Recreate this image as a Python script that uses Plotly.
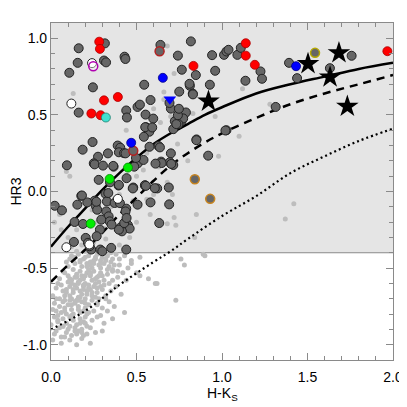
import plotly.graph_objects as go

# ---- data ----
# reddening / model curves
curve_x = [0, 0.1, 0.2, 0.3, 0.4, 0.5, 0.6, 0.7, 0.8, 0.9, 1.0, 1.2, 1.4, 1.6, 1.8, 2.0]
solid_y = [-0.36, -0.23, -0.11, 0.01, 0.12, 0.22, 0.31, 0.38, 0.44, 0.50, 0.55, 0.64, 0.70, 0.75, 0.80, 0.84]
dashed_y = [-0.59, -0.48, -0.38, -0.27, -0.15, -0.04, 0.07, 0.17, 0.25, 0.32, 0.38, 0.48, 0.57, 0.64, 0.70, 0.76]
dot_x = [0, 0.2, 0.4, 0.6, 0.7, 0.8, 1.0, 1.2, 1.4, 1.6, 1.8, 2.0]
dot_y = [-0.90, -0.78, -0.61, -0.46, -0.39, -0.31, -0.16, -0.03, 0.12, 0.23, 0.33, 0.41]

# faint background sources
faint_x = [0.12, 0.16, 0.19, 0.22, 0.25, 0.27, 0.30, 0.33, 0.35, 0.38, 0.40, 0.43, 0.47, 0.52, 0.14, 0.18, 0.21, 0.24, 0.28, 0.31, 0.34, 0.37, 0.09, 0.45, 0.26, 0.23, 0.29,
           0.07, 0.10, 0.13, 0.15, 0.17, 0.19, 0.21, 0.23, 0.25, 0.27, 0.29, 0.31, 0.33, 0.36, 0.39, 0.42, 0.12, 0.16, 0.20, 0.24, 0.28, 0.34, 0.05, 0.44, 0.52, 0.57, 0.62, 0.18, 0.22,
           0.03, 0.06, 0.09, 0.11, 0.13, 0.15, 0.17, 0.19, 0.21, 0.23, 0.25, 0.27, 0.30, 0.32, 0.35, 0.38, 0.41, 0.08, 0.12, 0.16, 0.20, 0.24, 0.28, 0.01, 0.14, 0.18, 0.22,
           0.02, 0.05, 0.07, 0.10, 0.12, 0.14, 0.16, 0.18, 0.20, 0.22, 0.25, 0.27, 0.30, 0.34, 0.37, 0.06, 0.09, 0.13, 0.17, 0.21, 0.01, 0.15, 0.11, 0.19,
           0.02, 0.04, 0.07, 0.09, 0.11, 0.13, 0.15, 0.17, 0.19, 0.21, 0.24, 0.27, 0.31, 0.05, 0.10, 0.14, 0.18, 0.23,
           0.02, 0.06, 0.09, 0.12, 0.15, 0.18, 0.21, 0.06, 0.15, 0.23, 0.01, 0.26, 0.00,
           0.43, 0.36, 0.30, 0.61, 0.73, 0.78, 0.76, 0.89, 0.90, 0.33, 0.29,
           0.13, 0.09, 0.11, 0.02, 0.05, 0.10, 0.15, 0.18, 0.20, 0.22, 0.25, 0.28, 0.30, 0.32, 0.27, 0.29, 0.31, 0.35, 0.37, 0.33, 0.38, 0.40, 0.42, 0.44, 0.46, 0.48,
           0.50, 0.52, 0.54, 0.56, 0.58, 0.60, 0.62, 0.64, 0.66, 0.68, 0.70, 0.72, 0.71, 0.73, 0.68, 0.85, 0.84, 0.98, 1.10, 0.96, 0.83, 1.12, 1.28, 0.72, 0.66, 0.68,
           0.38, 0.40, 0.46, 0.50, 0.35, 0.24, 0.17, 1.42, 1.37, 0.44, 0.48, 0.56, 0.60, 0.74, 0.80, 0.63, 0.06, 0.12, 0.45, 0.52, 0.34, 0.56,
           0.11, 0.14, 0.17, 0.20, 0.23, 0.26, 0.29, 0.32, 0.36, 0.40, 0.08, 0.11, 0.14, 0.17, 0.20, 0.23, 0.26, 0.30, 0.33, 0.04, 0.07, 0.10, 0.13, 0.16, 0.19,
           0.22, 0.26, 0.29, 0.03, 0.08, 0.11, 0.14, 0.17, 0.20, 0.24, 0.04, 0.08, 0.12, 0.16, 0.20, 0.03, 0.07, 0.11, 0.14, 0.18, 0.15, 0.20, 0.25, 0.30, 0.35,
           0.10, 0.13, 0.17, 0.21, 0.25, 0.29, 0.32, 0.36, 0.15, 0.19, 0.23, 0.27, 0.31, 0.09, 0.12, 0.16, 0.21, 0.26, 0.05, 0.08, 0.12, 0.17, 0.22, 0.03, 0.07,
           0.11, 0.16, 0.20, 0.39, 0.47, 0.50, 0.32, 0.27, 0.36, 0.13, 0.04, 0.08, 0.19, 0.24, 0.28]
faint_y = [-0.42, -0.41, -0.44, -0.42, -0.45, -0.41, -0.43, -0.42, -0.46, -0.41, -0.44, -0.42, -0.45, -0.43, -0.47, -0.49, -0.47, -0.50, -0.48, -0.47, -0.49, -0.48, -0.46, -0.50, -0.44, -0.46, -0.45,
           -0.52, -0.55, -0.51, -0.54, -0.52, -0.57, -0.53, -0.55, -0.52, -0.56, -0.53, -0.58, -0.54, -0.52, -0.56, -0.53, -0.58, -0.59, -0.60, -0.58, -0.59, -0.60, -0.57, -0.58, -0.55, -0.57, -0.60, -0.55, -0.51,
           -0.63, -0.61, -0.64, -0.62, -0.66, -0.63, -0.65, -0.62, -0.67, -0.64, -0.62, -0.66, -0.64, -0.68, -0.65, -0.62, -0.67, -0.68, -0.70, -0.69, -0.70, -0.68, -0.70, -0.68, -0.61, -0.67, -0.63,
           -0.73, -0.75, -0.72, -0.74, -0.77, -0.73, -0.75, -0.72, -0.76, -0.74, -0.78, -0.73, -0.76, -0.72, -0.75, -0.79, -0.80, -0.80, -0.79, -0.80, -0.77, -0.71, -0.71, -0.78,
           -0.82, -0.85, -0.83, -0.86, -0.82, -0.84, -0.87, -0.83, -0.85, -0.88, -0.84, -0.82, -0.86, -0.89, -0.90, -0.89, -0.90, -0.89,
           -0.93, -0.95, -0.92, -0.94, -0.93, -0.96, -0.93, -0.99, -1.00, -0.99, -0.97, -0.92, -0.87,
           -0.79, -0.83, -0.91, -0.60, -0.71, -0.48, -0.44, -0.41, -0.42, -0.78, -0.81,
           0.64, 0.13, 0.10, -0.20, -0.15, -0.30, -0.25, -0.35, -0.30, -0.22, -0.33, -0.28, -0.37, -0.31, -0.20, -0.15, -0.24, -0.10, -0.05, 0.00, 0.05, -0.02, -0.10, 0.08, 0.02, -0.06,
           0.10, 0.20, 0.14, 0.25, -0.15, -0.02, 0.30, 0.45, 0.60, 0.06, 0.49, -0.17, -0.02, -0.22, -0.21, -0.15, -0.30, 0.23, 0.36, 0.49, 0.51, 0.67, 0.57, 0.77, 0.65, 0.95,
           -0.25, -0.35, -0.30, -0.20, -0.38, -0.12, -0.05, -0.08, -0.18, 0.40, 0.33, 0.38, 0.54, 0.31, 0.20, 0.16, -0.25, -0.36, -0.15, -0.08, -0.20, -0.05,
           -0.44, -0.43, -0.45, -0.43, -0.48, -0.43, -0.47, -0.45, -0.44, -0.48, -0.53, -0.57, -0.56, -0.58, -0.55, -0.53, -0.57, -0.55, -0.51, -0.60, -0.65, -0.59, -0.64, -0.60, -0.64,
           -0.61, -0.60, -0.62, -0.70, -0.71, -0.68, -0.72, -0.69, -0.73, -0.71, -0.81, -0.78, -0.81, -0.77, -0.82, -0.91, -0.88, -0.88, -0.91, -0.92, -0.39, -0.39, -0.38, -0.39, -0.40,
           -0.49, -0.45, -0.46, -0.49, -0.47, -0.50, -0.44, -0.51, -0.56, -0.61, -0.54, -0.63, -0.61, -0.66, -0.60, -0.71, -0.65, -0.69, -0.70, -0.76, -0.74, -0.86, -0.79, -0.78, -0.88,
           -0.97, -0.91, -0.86, -0.52, -0.47, -0.53, -0.70, -0.74, -0.58, -0.45, -0.84, -0.95, -0.94, -0.66, -0.55]

# X-ray detected sources (dark grey)
src_x = [0.162, 0.315, 0.156, 0.107, 0.310, 0.322, 0.430, 0.435, 0.640, 0.742, 0.818, 0.765, 0.245, 0.162, 0.545, 0.582, 0.506, 0.520, 0.440, 0.444, 0.553,
         0.942, 1.012, 1.026, 1.038, 1.090, 1.110, 0.847, 0.960, 1.225, 1.234, 1.137, 0.812, 0.929, 0.750, 0.829, 0.701, 0.789, 0.693, 0.724, 0.763, 0.773,
         0.715, 0.745, 0.851, 1.026, 1.314, 1.392, 1.439, 1.631, 1.758,
         0.555, 0.580, 0.575, 0.598, 0.243, 0.390, 0.405, 0.397, 0.427, 0.185, 0.333, 0.275, 0.093, 0.250, 0.255, 0.304, 0.366, 0.279, 0.395, 0.481, 0.551,
         0.508, 0.541, 0.629, 0.637, 0.701, 0.919, 0.644, 0.695, 0.715, 0.689, 0.621, 0.691, 0.633, 0.582,
         0.022, 0.064, 0.177, 0.154, 0.255, 0.261, 0.270, 0.319, 0.327, 0.323, 0.337, 0.372, 0.440, 0.506, 0.138, 0.187, 0.343, 0.294, 0.203, 0.134, 0.235,
         0.288, 0.300, 0.352, 0.440, 0.226, 0.450, 0.460, 0.407, 0.415, 0.397, 0.428, 0.354, 0.286, 0.267, 0.216, 0.436, 0.442, 0.403, 0.265, 0.212, 0.181,
         0.335, 0.397, 0.442, 0.549, 0.479, 0.364, 0.487, 0.497, 0.436, 0.576, 0.543, 0.551, 0.592, 0.733, 0.742, 0.748, 0.810, 0.830, 0.850, 1.020, 0.647,
         0.703, 0.611, 0.345, 0.607, 0.555]
src_y = [0.935, 0.967, 0.840, 0.775, 0.855, 0.843, 0.880, 0.865, 0.957, 0.887, 0.980, 0.795, 0.680, 0.515, 0.697, 0.597, 0.552, 0.567, 0.529, 0.483, 0.502,
         0.890, 0.892, 0.914, 0.925, 0.892, 0.938, 0.760, 0.788, 0.784, 0.736, 0.723, 0.690, 0.697, 0.652, 0.639, 0.541, 0.516, 0.578, 0.459, 0.459, 0.477,
         0.407, 0.440, 0.340, 0.400, 0.552, 0.840, 0.740, 0.805, 0.886,
         0.420, 0.410, 0.390, 0.476, 0.323, 0.300, 0.286, 0.256, 0.250, 0.273, 0.249, 0.227, 0.171, 0.184, 0.177, 0.169, 0.162, 0.076, 0.039, 0.026, 0.039,
         0.184, 0.206, 0.297, 0.288, 0.249, 0.234, 0.195, 0.191, 0.173, 0.026, 0.020, -0.084, -0.206, -0.071,
         -0.093, -0.123, -0.028, -0.086, -0.060, -0.093, -0.119, -0.015, -0.065, -0.130, -0.162, -0.075, -0.112, -0.086, -0.199, -0.212, -0.195, -0.184, -0.303, -0.329, -0.379,
         -0.379, -0.390, -0.368, -0.379, -0.357, -0.220, -0.242, -0.234, -0.260, -0.249, -0.206, -0.216, -0.249, -0.292, -0.335, -0.130, -0.173, -0.076, -0.067, -0.071, -0.026,
         -0.010, 0.043, 0.087, 0.041, 0.020, 0.167, 0.162, 0.219, 0.249, 0.292, 0.357, 0.420, 0.418, 0.440, 0.498, 0.540, 0.703, 0.634, 0.335, 0.398, 0.186,
         0.180, 0.182, 0.060, 0.022, 0.037]

# special classes
red_x = [0.282, 0.286, 1.139, 1.139, 1.192, 0.833, 0.310, 0.391, 0.236, 0.290, 1.967]
red_y = [0.978, 0.931, 0.968, 0.887, 0.827, 0.820, 0.595, 0.617, 0.509, 0.498, 0.916]
blue_x = [0.654, 0.469, 1.433]
blue_y = [0.742, 0.318, 0.818]
green_x = [0.343, 0.450, 0.232]
green_y = [0.082, 0.156, -0.210]
cyan_x = [0.321]
cyan_y = [0.483]
tri_x = [0.695]
tri_y = [0.602]
open_x = [0.119, 0.240, 0.391, 0.090, 0.224]
open_y = [0.574, 0.838, -0.048, -0.364, -0.346]
magenta_x = [0.247]
magenta_y = [0.818]
darkred_x = [0.635, 0.481]
darkred_y = [0.916, 0.266]
orange_x = [0.841, 0.931]
orange_y = [0.080, -0.048]
olive_x = [1.544]
olive_y = [0.905]
star_x = [0.921, 1.503, 1.684, 1.632, 1.733]
star_y = [0.589, 0.834, 0.905, 0.747, 0.556]

x_ticks = [0.0, 0.5, 1.0, 1.5, 2.0]
x_labels = ['0.0', '0.5', '1.0', '1.5', '2.0']
y_ticks = [-1.0, -0.5, 0.0, 0.5, 1.0]
y_labels = ['-1.0', '-0.5', '0.0', '0.5', '1.0']

FONT = dict(family='Liberation Sans, Arial', size=14, color='black')


def pts(x, y, fill, line='#222222', size=9, symbol='circle', lw=1):
    return go.Scatter(x=x, y=y, mode='markers', showlegend=False, hoverinfo='skip',
                      marker=dict(color=fill, size=size, symbol=symbol,
                                  line=dict(color=line, width=lw)))


fig = go.Figure()

# grey shaded area (HR3 > -0.4)
fig.add_shape(type='rect', xref='x', yref='y', x0=0, x1=2, y0=-0.4, y1=1.1,
              fillcolor='#e5e5e5', line=dict(width=0), layer='below')
fig.add_shape(type='line', xref='x', yref='y', x0=0, x1=2, y0=-0.4, y1=-0.4,
              line=dict(color='#8a8a8a', width=1.2), layer='below')

fig.add_trace(go.Scatter(x=faint_x, y=faint_y, mode='markers', showlegend=False, hoverinfo='skip',
                         marker=dict(color='#bdbdbd', size=5, line=dict(width=0))))

fig.add_trace(go.Scatter(x=curve_x, y=solid_y, mode='lines', line=dict(color='black', width=2.5, shape='spline'),
                         showlegend=False))
fig.add_trace(go.Scatter(x=curve_x, y=dashed_y, mode='lines',
                         line=dict(color='black', width=2.5, dash='8px,6px', shape='spline'), showlegend=False))
fig.add_trace(go.Scatter(x=dot_x, y=dot_y, mode='lines',
                         line=dict(color='black', width=2.2, dash='2px,3px', shape='spline'), showlegend=False))

fig.add_trace(pts(src_x, src_y, '#666666'))
fig.add_trace(pts(darkred_x, darkred_y, '#666666', line='#b22222', lw=1.5))
fig.add_trace(pts(orange_x, orange_y, '#666666', line='#c8841e', lw=1.5))
fig.add_trace(pts(olive_x, olive_y, '#666666', line='#b5a800', lw=1.5))
fig.add_trace(pts(open_x, open_y, 'white'))
fig.add_trace(pts(magenta_x, magenta_y, 'rgba(255,255,255,0.4)', line='#b000b0', lw=1.5))
fig.add_trace(pts(red_x, red_y, '#ff0000', line='#aa0000', lw=0.8))
fig.add_trace(pts(blue_x, blue_y, '#0000ff', line='#000088', lw=0.8))
fig.add_trace(pts(green_x, green_y, '#00ee00', line='#008800', lw=0.8))
fig.add_trace(pts(cyan_x, cyan_y, '#40e0d0', line='#208070', lw=0.8))
fig.add_trace(pts(tri_x, tri_y, '#0000ff', line='#0000ff', size=11, symbol='triangle-down', lw=0))
fig.add_trace(pts(star_x, star_y, 'black', line='black', size=17, symbol='star', lw=0))

axis_common = dict(showline=True, linecolor='#8a8a8a', linewidth=1.2, mirror='ticks',
                   ticks='inside', ticklen=7, tickcolor='#8a8a8a', tickwidth=1,
                   showgrid=False, zeroline=False, automargin=False, tickfont=FONT,
                   minor=dict(ticks='inside', ticklen=4, tickcolor='#8a8a8a', dtick=0.1))

fig.update_xaxes(range=[0, 2], tickvals=x_ticks, ticktext=x_labels, ticklabelstandoff=4, **axis_common)
fig.update_yaxes(range=[-1.1, 1.1], tickvals=y_ticks, ticktext=y_labels,
                 title=dict(text='HR3', standoff=6, font=FONT), **axis_common)

# x title as annotation so its distance from the tick labels can be set directly
fig.add_annotation(text='H-K<sub>S</sub>', xref='paper', yref='paper', x=0.5, y=-0.1,
                   yanchor='middle', showarrow=False, font=FONT)

# the page adds an 8px body margin, so the figure is laid out 8px in from the window edge
fig.update_layout(width=399, height=399, margin=dict(l=43, r=14, t=15, b=47),
                  plot_bgcolor='white', paper_bgcolor='white', showlegend=False)

fig.write_html("out.html")
